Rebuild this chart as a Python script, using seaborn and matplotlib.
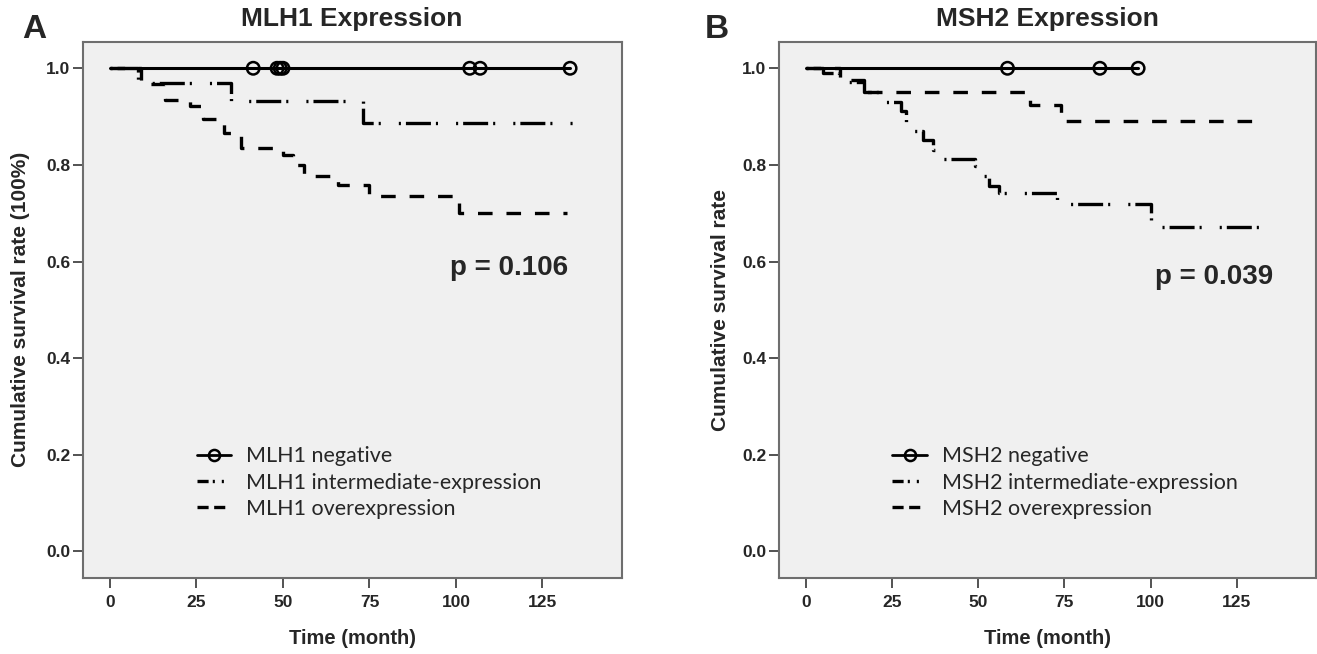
import numpy as np
import pandas as pd
import seaborn as sns
import matplotlib.pyplot as plt
from matplotlib.lines import Line2D

# MLH1 panel: step curves (time in months, cumulative survival)
mlh1_neg_t = [0, 133]
mlh1_neg_s = [1.0, 1.0]
mlh1_neg_cens = [41.4, 48.3, 49.2, 50.0, 104.0, 107.0, 133.0]
mlh1_int_t = [0, 8, 35, 73, 135]
mlh1_int_s = [1.0, 0.969, 0.932, 0.886, 0.886]
mlh1_over_t = [0, 9, 16, 23, 27, 33, 38, 50, 53, 56, 66, 75, 101, 132]
mlh1_over_s = [1.0, 0.967, 0.935, 0.922, 0.896, 0.866, 0.836, 0.82, 0.80, 0.776, 0.758, 0.736, 0.700, 0.700]

# MSH2 panel
msh2_neg_t = [0, 96.4]
msh2_neg_s = [1.0, 1.0]
msh2_neg_cens = [58.5, 85.3, 96.4]
msh2_int_t = [0, 5, 9.5, 17, 23, 27.5, 29, 31, 34, 37, 38.5, 49, 51.5, 53, 56, 73, 100, 135]
msh2_int_s = [1.0, 0.99, 0.972, 0.951, 0.931, 0.912, 0.886, 0.87, 0.851, 0.83, 0.812, 0.797, 0.776,
              0.757, 0.742, 0.72, 0.672, 0.672]
msh2_over_t = [0, 10, 17, 65, 74, 133]
msh2_over_s = [1.0, 0.975, 0.951, 0.924, 0.891, 0.891]

xticks = [0, 25, 50, 75, 100, 125]
yticks = [0.0, 0.2, 0.4, 0.6, 0.8, 1.0]

sns.set_style('ticks')
plt.rcParams['lines.scale_dashes'] = False

tick_font = ['Liberation Sans', 'DejaVu Sans']
bold_font = ['Liberation Sans', 'DejaVu Sans']
leg_font = ['Lato', 'DejaVu Sans']

dash_style = (0, (10.5, 10))
dashdot_style = (0, (1.5, 3.6, 18, 3.6, 1.5, 13))
frame_col = '#6e6e6e'


def km_panel(ax, neg, negc, inter, over, gene, ylabel, ptext, ppos):
    ax.set_facecolor('#f0f0f0')
    sns.lineplot(x=neg[0], y=neg[1], ax=ax, color='black', lw=2.2, drawstyle='steps-post')
    sns.scatterplot(x=negc, y=[1.0] * len(negc), ax=ax, marker='o', s=80,
                    facecolors='none', edgecolor='black', linewidth=1.8, zorder=5)
    sns.lineplot(x=inter[0], y=inter[1], ax=ax, color='black', lw=2.4,
                 drawstyle='steps-post', linestyle=dashdot_style)
    sns.lineplot(x=over[0], y=over[1], ax=ax, color='black', lw=2.4,
                 drawstyle='steps-post', linestyle=dash_style)

    ax.set_xlim(-7.8, 148)
    ax.set_ylim(-0.055, 1.055)
    ax.set_xticks(xticks)
    ax.set_yticks(yticks)
    ax.set_xticklabels([str(v) for v in xticks], family=tick_font, weight='bold', fontsize=12.5)
    ax.set_yticklabels(['%.1f' % v for v in yticks], family=tick_font, weight='bold', fontsize=12.5)
    ax.tick_params(length=7, width=1.3, color='#444444')
    ax.tick_params(axis='x', pad=5)
    ax.tick_params(axis='y', pad=2)
    for sp in ax.spines.values():
        sp.set_visible(True)
        sp.set_color(frame_col)
        sp.set_linewidth(1.5)

    ax.set_xlabel('Time (month)', family=bold_font, weight='bold', fontsize=14.5)
    ax.set_ylabel(ylabel, family=bold_font, weight='bold', fontsize=15)
    ax.xaxis.set_label_coords(0.5, -0.095)

    ax.text(ppos[0], ppos[1], ptext, ha='right', va='center', family=bold_font,
            weight='bold', fontsize=20)

    handles = [Line2D([], [], color='black', lw=2, marker='o', mfc='none', mec='black', ms=8, mew=1.8),
               Line2D([], [], color='black', lw=2.4, linestyle=(0, (8, 3, 1.5, 5, 1.5, 10))),
               Line2D([], [], color='black', lw=2.4, linestyle=(0, (8, 4, 8, 10)))]
    labels = [gene + ' negative', gene + ' intermediate-expression', gene + ' overexpression']
    ax.legend(handles, labels, loc='upper left', bbox_to_anchor=(0.195, 0.262), frameon=False,
              prop={'family': leg_font, 'size': 15.5}, handlelength=1.6, handletextpad=0.7,
              labelspacing=0.3, borderaxespad=0)


fig = plt.figure(figsize=(13.17, 6.54), dpi=100)
ax1 = fig.add_axes([83 / 1317, 1 - 578 / 654, 539 / 1317, 536.3 / 654])
ax2 = fig.add_axes([779 / 1317, 1 - 578 / 654, 537 / 1317, 536.3 / 654])

km_panel(ax1, (mlh1_neg_t, mlh1_neg_s), mlh1_neg_cens, (mlh1_int_t, mlh1_int_s),
         (mlh1_over_t, mlh1_over_s), 'MLH1', 'Cumulative survival rate (100%)',
         'p = 0.106', (132.4, 0.587))
km_panel(ax2, (msh2_neg_t, msh2_neg_s), msh2_neg_cens, (msh2_int_t, msh2_int_s),
         (msh2_over_t, msh2_over_s), 'MSH2', 'Cumulative survival rate',
         'p = 0.039', (135.6, 0.569))
ax1.yaxis.set_label_coords(-0.099, 0.5)
ax2.yaxis.set_label_coords(-0.092, 0.5)

fig.text(352 / 1317, 1 - 19 / 654, 'MLH1 Expression', ha='center', va='center',
         family=bold_font, weight='bold', fontsize=19)
fig.text(1047 / 1317, 1 - 19 / 654, 'MSH2 Expression', ha='center', va='center',
         family=bold_font, weight='bold', fontsize=19)
fig.text(22 / 1317, 1 - 30 / 654, 'A', ha='left', va='center', family=bold_font,
         weight='bold', fontsize=24)
fig.text(705 / 1317, 1 - 30 / 654, 'B', ha='left', va='center', family=bold_font,
         weight='bold', fontsize=24)

fig.savefig('out.png', dpi=100, facecolor='white')
